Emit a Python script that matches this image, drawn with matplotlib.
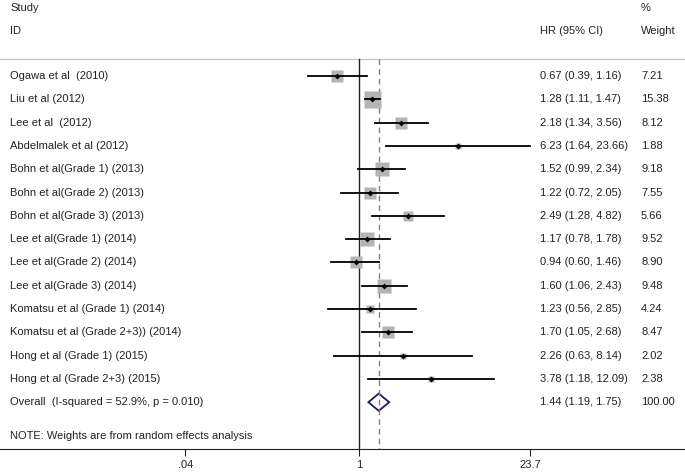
import numpy as np
import matplotlib
matplotlib.use('Agg')
import matplotlib.pyplot as plt
from matplotlib.patches import Polygon

plt.rcParams['font.family'] = ['Liberation Sans', 'DejaVu Sans']

# study data
studies = ['Ogawa et al  (2010)', 'Liu et al (2012)', 'Lee et al  (2012)',
           'Abdelmalek et al (2012)', 'Bohn et al(Grade 1) (2013)',
           'Bohn et al(Grade 2) (2013)', 'Bohn et al(Grade 3) (2013)',
           'Lee et al(Grade 1) (2014)', 'Lee et al(Grade 2) (2014)',
           'Lee et al(Grade 3) (2014)', 'Komatsu et al (Grade 1) (2014)',
           'Komatsu et al (Grade 2+3)) (2014)', 'Hong et al (Grade 1) (2015)',
           'Hong et al (Grade 2+3) (2015)']
hr = [0.67, 1.28, 2.18, 6.23, 1.52, 1.22, 2.49, 1.17, 0.94, 1.60, 1.23, 1.70, 2.26, 3.78]
lo = [0.39, 1.11, 1.34, 1.64, 0.99, 0.72, 1.28, 0.78, 0.60, 1.06, 0.56, 1.05, 0.63, 1.18]
hi = [1.16, 1.47, 3.56, 23.66, 2.34, 2.05, 4.82, 1.78, 1.46, 2.43, 2.85, 2.68, 8.14, 12.09]
weight = [7.21, 15.38, 8.12, 1.88, 9.18, 7.55, 5.66, 9.52, 8.90, 9.48, 4.24, 8.47, 2.02, 2.38]

overall_label = 'Overall  (I-squared = 52.9%, p = 0.010)'
overall_hr, overall_lo, overall_hi, overall_w = 1.44, 1.19, 1.75, 100.00
note = 'NOTE: Weights are from random effects analysis'
xticks = [0.04, 1, 23.7]
xticklabels = ['.04', '1', '23.7']

W, H = 685, 472
fig = plt.figure(figsize=(W / 100, H / 100), dpi=100)
ax = fig.add_axes([0, (H - 449) / H, 1, 449 / H])
ax.set_xscale('log')
ppl = 54.0  # pixels per ln unit
x1 = 359.0
ax.set_xlim(np.exp(-x1 / ppl), np.exp((W - x1) / ppl))
row_px = 23.3
y0_px = 76.0
ax.set_ylim((449 - y0_px) / row_px, (0 - y0_px) / row_px)

def xpix(px):
    return np.exp((px - x1) / ppl)

def ypix(py):
    return (py - y0_px) / row_px

txt = '#222222'
fs = 8
col_study, col_hr, col_w = xpix(10), xpix(540), xpix(641)

# headers
ax.text(col_study, ypix(8), 'Study', fontsize=fs, color=txt, va='center')
ax.text(col_study, ypix(31), 'ID', fontsize=fs, color=txt, va='center')
ax.text(col_hr, ypix(31), 'HR (95% CI)', fontsize=fs, color=txt, va='center')
ax.text(col_w, ypix(8), '%', fontsize=fs, color=txt, va='center')
ax.text(col_w, ypix(31), 'Weight', fontsize=fs, color=txt, va='center')
top = ypix(59)
ax.axhline(top, color='#c8c8c8', lw=1)

n = len(studies)
bottom = ax.get_ylim()[0]
ax.plot([1, 1], [top, bottom], color='#222222', lw=1)
ax.plot([overall_hr, overall_hr], [top, bottom], color='#a8707a',
        lw=1, ls=(0, (4, 3)))

for i in range(n):
    side = 17 * np.sqrt(weight[i] / weight[1])
    ax.plot(hr[i], i, marker='s', ms=side * 0.72, color='#b4b4b4', mec='none')
    ax.plot([lo[i], hi[i]], [i, i], color='black', lw=1.3)
    ax.plot(hr[i], i, marker='D', ms=3, color='black', mec='none')
    ax.text(col_study, i, studies[i], fontsize=fs, color=txt, va='center')
    ax.text(col_hr, i, f'{hr[i]:.2f} ({lo[i]:.2f}, {hi[i]:.2f})',
            fontsize=fs, color=txt, va='center')
    ax.text(col_w, i, f'{weight[i]:.2f}', fontsize=fs, color=txt, va='center')

yo = n
dh = 0.37
ax.add_patch(Polygon([[overall_lo, yo], [overall_hr, yo - dh], [overall_hi, yo],
                      [overall_hr, yo + dh]], closed=True, fill=False,
                     ec='#1c1c6e', lw=1.3))
ax.text(col_study, yo, overall_label, fontsize=fs, color=txt, va='center')
ax.text(col_hr, yo, f'{overall_hr:.2f} ({overall_lo:.2f}, {overall_hi:.2f})',
        fontsize=fs, color=txt, va='center')
ax.text(col_w, yo, f'{overall_w:.2f}', fontsize=fs, color=txt, va='center')
ax.text(col_study, ypix(436), note, fontsize=fs, color=txt, va='center')

for s in ['top', 'left', 'right']:
    ax.spines[s].set_visible(False)
ax.spines['bottom'].set_color('#222222')
ax.set_yticks([])
ax.set_xticks(xticks)
ax.set_xticklabels(xticklabels, fontsize=fs, color=txt)
ax.xaxis.set_minor_locator(matplotlib.ticker.NullLocator())
ax.tick_params(axis='x', length=5, color='#222222', pad=3)

fig.savefig('out.png', dpi=100)
